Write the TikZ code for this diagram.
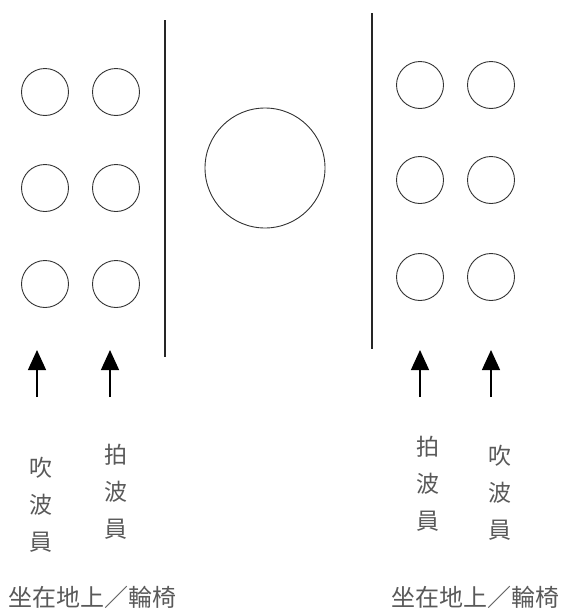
\documentclass[tikz,border=0pt]{standalone}
\usepackage{fontspec}
\newfontfamily\cjk{Noto Sans CJK TC}
\usetikzlibrary{arrows.meta}
\begin{document}
\begin{tikzpicture}[x=1pt,y=-1pt,
  seat/.style={draw=black!80,line width=0.9pt,circle,minimum size=47pt,inner sep=0pt},
  wall/.style={draw=black!85,line width=1.4pt},
  arr/.style={draw=black,line width=1.3pt,-{Triangle[length=20pt,width=18pt]}},
  vlabel/.style={text=black!65,font=\cjk\fontsize{23}{37}\selectfont,align=center,inner sep=0pt},
  blabel/.style={text=black!65,font=\cjk\fontsize{24}{28}\selectfont,inner sep=0pt}]
\useasboundingbox (0,0) rectangle (562,608);
% left seats
\node[seat] (l11) at (45,92) {};
\node[seat] (l12) at (116,92) {};
\node[seat] (l21) at (45,188) {};
\node[seat] (l22) at (116,188) {};
\node[seat] (l31) at (45,284) {};
\node[seat] (l32) at (116,284) {};
% right seats
\node[seat] (r11) at (420,85) {};
\node[seat] (r12) at (491,85) {};
\node[seat] (r21) at (420,180) {};
\node[seat] (r22) at (491,180) {};
\node[seat] (r31) at (420,277) {};
\node[seat] (r32) at (491,277) {};
% centre
\node[seat,minimum size=120pt] (mid) at (265,168) {};
% walls
\coordinate (lwt) at (165,20);
\coordinate (lwb) at (165,357);
\coordinate (rwt) at (372,13);
\coordinate (rwb) at (372,349);
\draw[wall] (lwt) -- (lwb);
\draw[wall] (rwt) -- (rwb);
% arrows
\coordinate (a1b) at (37,397); \coordinate (a1t) at (37,350);
\coordinate (a2b) at (110,397); \coordinate (a2t) at (110,350);
\coordinate (a3b) at (420,397); \coordinate (a3t) at (420,350);
\coordinate (a4b) at (491,397); \coordinate (a4t) at (491,350);
\draw[arr] (a1b) -- (a1t);
\draw[arr] (a2b) -- (a2t);
\draw[arr] (a3b) -- (a3t);
\draw[arr] (a4b) -- (a4t);
% labels
\node[vlabel] (t1) at (41,505) {吹\\波\\員};
\node[vlabel] (t2) at (116,492) {拍\\波\\員};
\node[vlabel] (t3) at (428,484) {拍\\波\\員};
\node[vlabel] (t4) at (500,493) {吹\\波\\員};
\node[blabel] (b1) at (93,597) {坐在地上／輪椅};
\node[blabel] (b2) at (475,597) {坐在地上／輪椅};
\end{tikzpicture}
\end{document}
